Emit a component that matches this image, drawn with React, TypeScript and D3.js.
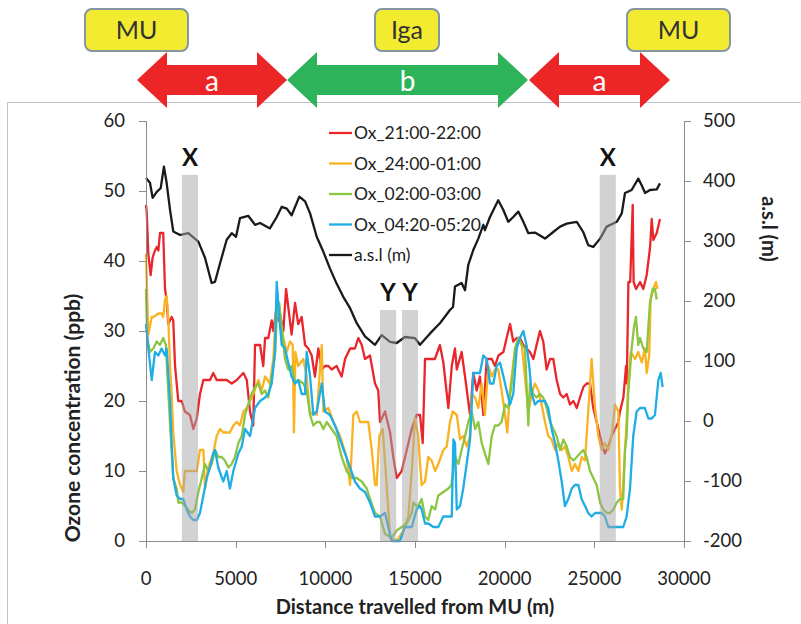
import React from 'react';
import * as d3 from 'd3';

// ozone (ppb) along the route, [distance m, value]
const ox2100: [number, number][] = [
  [0, 48], [40, 47], [130, 41], [260, 38], [370, 40.5], [500, 41.5], [600, 42], [690, 41.5], [780, 44], [960, 44],
  [1060, 36], [1150, 34.5], [1240, 31], [1430, 32], [1520, 31.5], [1620, 25], [1800, 20], [1990, 20], [2170, 18.5],
  [2450, 18], [2640, 16], [2830, 17.5], [3010, 21], [3200, 23], [3570, 23], [3750, 24], [3940, 23], [4500, 23],
  [4780, 22.5], [5060, 23], [5430, 24], [5620, 23], [5800, 18.5], [5980, 16.5], [6080, 28], [6360, 28], [6540, 25],
  [6640, 29], [6820, 29], [7010, 31.5], [7100, 30], [7290, 33.5], [7380, 31.5], [7470, 32.5], [7660, 30], [7810, 36],
  [7930, 33.5], [8120, 29.5], [8310, 34], [8490, 31], [8680, 32], [8870, 28], [9050, 27.5], [9240, 26.5], [9420, 23.5],
  [9610, 27.5], [9800, 24.5], [9980, 25], [10170, 25], [10350, 24.5], [10630, 25], [10910, 23.5], [11100, 26],
  [11380, 27.5], [11650, 27.5], [11840, 29], [12030, 28], [12210, 26], [12490, 26.5], [12770, 22.5], [12950, 21.5],
  [13050, 17], [13330, 18.5], [13610, 15.5], [13790, 12], [13980, 9], [14260, 10], [14540, 13], [14820, 16],
  [15090, 18], [15280, 18], [15430, 14], [15560, 26], [15840, 26], [16110, 26], [16390, 28], [16580, 25.5],
  [16860, 19], [17050, 25], [17230, 27.5], [17330, 24.5], [17600, 27], [17790, 23.5], [18070, 18], [18250, 24],
  [18440, 21.5], [18620, 23.5], [18810, 18], [19000, 26], [19280, 26], [19460, 25], [19650, 26.5], [19930, 27],
  [20110, 29], [20300, 31], [20480, 28.5], [20670, 29], [20850, 29], [21040, 28], [21220, 27.5], [21410, 27],
  [21600, 26], [21780, 28], [21970, 30], [22150, 28.5], [22340, 24.5], [22530, 26], [22710, 26], [22900, 23],
  [23090, 21], [23270, 20.5], [23460, 21], [23640, 19.5], [23830, 20], [24020, 19], [24200, 20.5], [24390, 22],
  [24570, 22.5], [24760, 22.5], [24940, 19], [25130, 17], [25410, 14], [25590, 12.5], [25780, 13.5], [25960, 15],
  [26150, 16], [26340, 17], [26430, 18.5], [26620, 20.5], [26770, 25], [26810, 22.5], [26900, 37], [27000, 37],
  [27140, 48], [27190, 37], [27330, 36], [27550, 37], [27730, 36], [27920, 38], [28110, 42], [28200, 46],
  [28290, 43], [28480, 44], [28660, 46],
];

const ox2400: [number, number][] = [
  [0, 41], [130, 29.5], [320, 32], [410, 32], [690, 32.5], [870, 32.5], [960, 32], [1060, 34.5], [1150, 35],
  [1240, 32], [1340, 25], [1430, 21], [1520, 15.5], [1710, 10], [1900, 8], [2080, 7], [2170, 10], [2450, 10],
  [2830, 10], [3010, 13], [3200, 13], [3290, 7.5], [3470, 10.5], [3750, 12.5], [3940, 15], [4130, 16], [4310, 15.5],
  [4680, 15.5], [4870, 16.5], [5060, 17], [5240, 16.5], [5430, 18.5], [5620, 19], [5800, 20], [5980, 21], [6270, 23],
  [6450, 21.5], [6640, 23.5], [6910, 22.5], [7100, 26], [7290, 35], [7470, 32], [7660, 29], [7850, 27], [8030, 28.5],
  [8180, 28], [8250, 15.5], [8330, 27], [8490, 25], [8770, 26], [8960, 23.5], [9150, 18], [9330, 18.5], [9520, 18],
  [9800, 28], [9890, 18.5], [10170, 19], [10450, 17], [10820, 15], [11190, 12], [11380, 8], [11560, 18],
  [11750, 18.5], [11930, 17], [12400, 17], [12590, 13], [12770, 8], [12860, 8], [13010, 15], [13200, 16],
  [13420, 8], [13610, 0.5], [13980, 0], [14350, 1.5], [14630, 3.5], [14820, 10], [15000, 17.5], [15180, 15],
  [15280, 11], [15370, 8], [15560, 8.5], [15740, 12], [15930, 11.5], [16120, 10], [16300, 11], [16580, 13],
  [16770, 13.5], [16950, 17], [17100, 18.5], [17330, 18], [17510, 14.5], [17690, 15], [17880, 13.5], [18070, 15],
  [18160, 21], [18350, 20.5], [18530, 19], [18720, 22.5], [18900, 18], [19090, 25], [19280, 23.5], [19460, 24.5],
  [19640, 24.5], [19830, 21.5], [20020, 18], [20150, 15.5], [20300, 21.5], [20580, 27.5], [20760, 29], [20950, 28],
  [21130, 23.5], [21320, 18.5], [21510, 21], [21690, 22.5], [21880, 21.5], [22060, 19.5], [22250, 17], [22430, 15],
  [22620, 14.5], [22810, 13], [22990, 14], [23180, 13], [23360, 13.5], [23550, 12], [23740, 10], [23920, 11],
  [24110, 10], [24300, 12], [24480, 11.5], [24660, 18.5], [24850, 26], [25040, 19], [25220, 15], [25410, 13],
  [25590, 14], [25780, 13], [25970, 15], [26150, 19.5], [26340, 18.5], [26430, 7.5], [26530, 4.5], [26610, 8],
  [26710, 13], [26800, 17], [26890, 22.5], [27030, 27], [27270, 26], [27450, 27], [27640, 25.5], [27820, 27.5],
  [27920, 24], [28060, 26.5], [28140, 34.5], [28290, 36], [28440, 37], [28510, 36],
];

const ox0200: [number, number][] = [
  [0, 36], [70, 29], [220, 27], [410, 27.5], [600, 28.5], [780, 28], [960, 29], [1110, 28], [1240, 21.5], [1380, 15],
  [1520, 9], [1710, 7.5], [1800, 5.5], [1990, 5.5], [2180, 5], [2360, 4.5], [2550, 4], [2730, 4.5], [2920, 7],
  [3110, 9], [3290, 11], [3470, 10], [3660, 11], [3850, 13], [4030, 12], [4220, 12], [4400, 11.5], [4590, 10.5],
  [4780, 11], [4960, 12], [5150, 14], [5340, 15], [5520, 18], [5700, 19.5], [5890, 21], [6080, 22], [6260, 22.5],
  [6450, 21], [6640, 21.5], [6820, 20.5], [7010, 23.5], [7190, 26.5], [7290, 32], [7430, 34], [7570, 30.5],
  [7750, 26], [7930, 24.5], [8120, 25], [8310, 22.5], [8490, 23], [8770, 22.5], [8960, 21.5], [9150, 18],
  [9330, 16.5], [9520, 17], [9700, 17], [9890, 16], [10080, 17], [10350, 16], [10630, 15], [10910, 12], [11190, 10],
  [11470, 9], [11750, 9], [12030, 8.5], [12310, 7.5], [12490, 6], [12770, 4], [13050, 3.5], [13330, 1], [13700, 0.5],
  [13980, 1.5], [14260, 2], [14540, 2.5], [14820, 4], [14910, 5.5], [15090, 5], [15180, 5], [15370, 6], [15560, 3.5],
  [15740, 3], [15930, 5], [16120, 4.5], [16300, 6.5], [16580, 7], [16860, 7.5], [17030, 8], [17230, 12], [17420, 11],
  [17600, 13], [17790, 15], [17970, 17], [18160, 18.5], [18350, 16], [18530, 17], [18720, 14], [18900, 12.5],
  [19090, 11], [19280, 15], [19460, 16.5], [19640, 16.5], [19830, 17], [20020, 19.5], [20200, 19], [20390, 22.5],
  [20580, 27.5], [20760, 29], [20950, 28], [21130, 27.5], [21320, 16.5], [21410, 22.5], [21600, 21], [21780, 20.5],
  [21970, 21], [22150, 20.5], [22340, 19], [22530, 17], [22710, 16], [22900, 15], [23090, 13], [23270, 14.5],
  [23460, 13.5], [23640, 12], [23830, 11.5], [24020, 12], [24200, 12.5], [24390, 13], [24570, 12], [24760, 10],
  [24940, 9], [25130, 8], [25320, 5.5], [25500, 4.5], [25690, 4], [25870, 4], [26060, 4.5], [26250, 5.5], [26430, 6],
  [26610, 6], [26710, 13], [26800, 15], [26890, 21], [27080, 27.5], [27210, 30.5], [27320, 32], [27450, 28],
  [27550, 29], [27730, 27.5], [27920, 27], [28100, 34], [28250, 36], [28380, 36], [28480, 34.5],
];

const ox0420: [number, number][] = [
  [0, 31], [130, 27.5], [320, 23], [500, 27], [690, 26.5], [870, 27.5], [1060, 26.5], [1150, 27.5], [1340, 20],
  [1430, 14], [1520, 9], [1710, 6.5], [1900, 6], [2080, 6], [2270, 4.5], [2450, 3.5], [2640, 3], [2830, 3], [3010, 4],
  [3200, 6.5], [3390, 9], [3570, 10.5], [3750, 12.5], [3850, 13], [4030, 10.5], [4310, 8.5], [4500, 10], [4680, 7.5],
  [4870, 10], [5150, 12.5], [5340, 13.5], [5520, 16], [5800, 15], [6080, 19], [6360, 20], [6640, 20.5], [6820, 21],
  [7010, 22.5], [7190, 27], [7290, 37], [7430, 32], [7570, 28], [7750, 27.5], [7930, 25.5], [8120, 23.5],
  [8310, 22.5], [8490, 23], [8680, 21], [8870, 21], [8960, 27], [9150, 23.5], [9330, 18], [9520, 18.5], [9800, 22.5],
  [9980, 18.5], [10260, 18], [10540, 16.5], [10820, 14.5], [11100, 12.5], [11380, 10.5], [11650, 8.5], [11930, 7.5],
  [12210, 7], [12490, 5.5], [12770, 3.5], [13050, 3.5], [13330, 4], [13510, 2], [13700, 0], [14160, 0], [14440, 2],
  [14820, 2], [15090, 4.5], [15280, 5], [15370, 4.5], [15560, 2.5], [15740, 2.5], [16020, 2], [16300, 2],
  [16580, 3.5], [16860, 3.5], [17050, 3.5], [17140, 14.5], [17230, 14], [17330, 4.5], [17510, 5], [17690, 7.5],
  [17880, 11], [18070, 14.5], [18250, 24], [18440, 24], [18620, 24], [18810, 26.5], [19000, 26], [19180, 22.5],
  [19370, 22.5], [19550, 25], [19740, 25.5], [19930, 23.5], [20110, 21.5], [20300, 19.5], [20480, 21], [20670, 27.5],
  [20850, 29], [21040, 30], [21220, 28], [21370, 25], [21510, 21], [21690, 19.5], [21880, 20], [22060, 20],
  [22250, 20], [22430, 19], [22620, 16], [22810, 14], [22990, 11.5], [23180, 8.5], [23360, 5], [23550, 6],
  [23740, 7.5], [23920, 8], [24110, 8], [24290, 6], [24480, 5], [24660, 4], [24850, 3.5], [25040, 4], [25220, 4],
  [25410, 4], [25590, 3.5], [25780, 2], [26250, 2], [26610, 2], [26800, 3.5], [26990, 7.5], [27170, 15],
  [27360, 18.5], [27550, 19], [27820, 19], [28010, 17.5], [28200, 17.5], [28380, 18], [28570, 23], [28700, 24],
  [28810, 22],
];

// altitude above sea level (m)
const asl: [number, number][] = [
  [0, 405], [220, 397], [370, 372], [600, 382], [820, 388], [1000, 424], [1150, 397], [1340, 352], [1520, 316],
  [1900, 310], [2360, 313], [2920, 299], [3290, 272], [3660, 230], [3850, 232], [4130, 263], [4500, 302],
  [4780, 313], [5020, 307], [5240, 338], [5700, 342], [6080, 327], [6360, 330], [6910, 321], [7290, 340],
  [7570, 357], [7850, 354], [8120, 343], [8550, 374], [8870, 366], [9150, 346], [9520, 307], [9890, 282],
  [10260, 254], [10630, 229], [11000, 207], [11380, 188], [11750, 163], [12210, 141], [12770, 127], [13140, 143],
  [13610, 132], [13980, 130], [14440, 140], [15000, 138], [15280, 127], [15840, 146], [16390, 163], [16950, 185],
  [17120, 190], [17230, 224], [17600, 230], [17790, 218], [17970, 260], [18250, 285], [18530, 304], [18810, 327],
  [18900, 318], [19180, 340], [19640, 368], [19920, 352], [20200, 332], [20480, 340], [20760, 349], [21040, 332],
  [21320, 313], [21690, 314], [22250, 304], [22710, 315], [23090, 324], [23460, 329], [24020, 332], [24380, 315],
  [24660, 293], [24940, 290], [25320, 304], [25690, 324], [26250, 332], [26530, 346], [26710, 380], [27080, 385],
  [27450, 404], [27640, 393], [27830, 380], [28100, 385], [28480, 386], [28660, 396],
];

const distanceTicks = [0, 5000, 10000, 15000, 20000, 25000, 30000];
const ozoneTicks = [0, 10, 20, 30, 40, 50, 60];
const aslTicks = [-200, -100, 0, 100, 200, 300, 400, 500];

// shaded stretches: [from m, to m, top ppb, label]
const shaded: [number, number, number, string][] = [
  [2000, 2900, 52.3, 'X'],
  [13050, 13950, 33, 'Y'],
  [14280, 15170, 33, 'Y'],
  [25300, 26200, 52.3, 'X'],
];

const series = [
  { name: 'Ox_21:00-22:00', color: '#e8262b', data: ox2100 },
  { name: 'Ox_24:00-01:00', color: '#f9b322', data: ox2400 },
  { name: 'Ox_02:00-03:00', color: '#8bc541', data: ox0200 },
  { name: 'Ox_04:20-05:20', color: '#1eade4', data: ox0420 },
];

// route banner over the chart
const places = [
  { label: 'MU', x0: 85, x1: 188 },
  { label: 'Iga', x0: 375, x1: 439 },
  { label: 'MU', x0: 627, x1: 730 },
];
const legs = [
  { label: 'a', x0: 137, x1: 287, color: '#ec2627' },
  { label: 'b', x0: 287, x1: 528, color: '#2db45a' },
  { label: 'a', x0: 529, x1: 670, color: '#ec2627' },
];

const font = "Lato, 'Open Sans', sans-serif";
const axisColor = '#8c8c8c';

function arrowPath(x0: number, x1: number, cy: number) {
  const head = 30, hh = 28, sh = 15;
  return [
    [x0, cy], [x0 + head, cy - hh], [x0 + head, cy - sh], [x1 - head, cy - sh], [x1 - head, cy - hh],
    [x1, cy], [x1 - head, cy + hh], [x1 - head, cy + sh], [x0 + head, cy + sh], [x0 + head, cy + hh],
  ].map((p, i) => (i ? 'L' : 'M') + p[0] + ',' + p[1]).join('') + 'Z';
}

export default function App() {
  const left = 146, right = 684, top = 121, bottom = 541;
  const x = d3.scaleLinear().domain([0, 30000]).range([left, right]);
  const yL = d3.scaleLinear().domain([0, 60]).range([bottom, top]);
  const yR = d3.scaleLinear().domain([-200, 500]).range([bottom, top]);

  const ozLine = d3.line<[number, number]>().x(d => x(d[0])).y(d => yL(d[1]));
  const aslLine = d3.line<[number, number]>().x(d => x(d[0])).y(d => yR(d[1]));

  const legendItems = [...series.map(s => ({ name: s.name, color: s.color })), { name: 'a.s.l (m)', color: '#1a1a1a' }];

  return (
    <svg width={801} height={624} style={{ position: 'absolute', left: 0, top: 0, background: '#fff' }} fontFamily={font}>
      <rect x={7.5} y={102.5} width={800} height={530} fill="#fff" stroke="#c4c4c4" />

      {/* banner */}
      {places.map((p, i) => (
        <g key={'p' + i}>
          <rect x={p.x0} y={9} width={p.x1 - p.x0} height={42} rx={7} fill="#f3eb30" stroke="#8596a0" strokeWidth={2} />
          <text x={(p.x0 + p.x1) / 2} y={39} textAnchor="middle" fontSize={25} fill="#333">{p.label}</text>
        </g>
      ))}
      {legs.map((l, i) => (
        <g key={'l' + i}>
          <path d={arrowPath(l.x0, l.x1, 80)} fill={l.color} />
          <text x={(l.x0 + l.x1) / 2} y={91} textAnchor="middle" fontSize={28} fill="#fff">{l.label}</text>
        </g>
      ))}

      {/* lines */}
      {series.map(s => (
        <path key={s.name} d={ozLine(s.data) || ''} fill="none" stroke={s.color} strokeWidth={2.3} strokeLinejoin="round" />
      ))}
      <path d={aslLine(asl) || ''} fill="none" stroke="#1a1a1a" strokeWidth={2.3} strokeLinejoin="round" />

      {/* shaded stretches */}
      {shaded.map((b, i) => (
        <g key={'b' + i}>
          <rect x={x(b[0])} y={yL(b[2])} width={x(b[1]) - x(b[0])} height={yL(0) - yL(b[2])} fill="#a6a6a6" fillOpacity={0.5} />
          <text x={(x(b[0]) + x(b[1])) / 2} y={yL(b[2]) - 9} textAnchor="middle" fontSize={24} fontWeight="bold" fill="#111">{b[3]}</text>
        </g>
      ))}

      {/* axes */}
      <g stroke={axisColor} strokeWidth={1}>
        <line x1={left + 0.5} x2={left + 0.5} y1={top} y2={bottom} />
        <line x1={right + 0.5} x2={right + 0.5} y1={top} y2={bottom} />
        <line x1={left} x2={right} y1={bottom + 0.5} y2={bottom + 0.5} />
        {ozoneTicks.map(t => <line key={'lt' + t} x1={left - 7} x2={left} y1={Math.round(yL(t)) + 0.5} y2={Math.round(yL(t)) + 0.5} />)}
        {aslTicks.map(t => <line key={'rt' + t} x1={right} x2={right + 7} y1={Math.round(yR(t)) + 0.5} y2={Math.round(yR(t)) + 0.5} />)}
        {distanceTicks.map(t => <line key={'bt' + t} x1={Math.round(x(t)) + 0.5} x2={Math.round(x(t)) + 0.5} y1={bottom} y2={bottom + 7} />)}
      </g>
      <g fontSize={18.5} fill="#222">
        {ozoneTicks.map(t => <text key={'ll' + t} x={125} y={yL(t)} dy="0.35em" textAnchor="end">{t}</text>)}
        {aslTicks.map(t => <text key={'rl' + t} x={703} y={yR(t)} dy="0.35em">{t}</text>)}
        {distanceTicks.map(t => <text key={'bl' + t} x={x(t)} y={585} textAnchor="middle">{t}</text>)}
      </g>
      <text transform="translate(80,418) rotate(-90)" textAnchor="middle" fontSize={21} fontWeight="bold" fill="#222">Ozone concentration (ppb)</text>
      <text transform="translate(762,229) rotate(90)" textAnchor="middle" fontSize={20} fontWeight="bold" fill="#222">a.s.l (m)</text>
      <text x={415} y={614} textAnchor="middle" fontSize={20} fontWeight="bold" fill="#222">Distance travelled from MU (m)</text>

      {/* legend */}
      {legendItems.map((it, i) => (
        <g key={it.name} transform={`translate(0,${133 + i * 30.5})`}>
          <line x1={329} x2={352} y1={0} y2={0} stroke={it.color} strokeWidth={2.3} />
          <text x={354} y={0} dy="0.35em" fontSize={17.5} fill="#222">{it.name}</text>
        </g>
      ))}
    </svg>
  );
}
